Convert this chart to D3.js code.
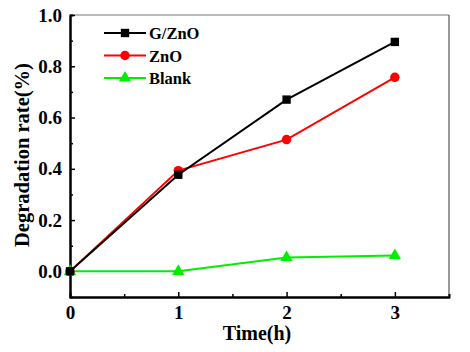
<!DOCTYPE html>
<html lang="en">
<head>
    <meta charset="UTF-8">
    <title>Degradation rate</title>
    <script src="https://d3js.org/d3.v7.min.js"></script>
    <style>
        body { margin: 0; background: #fff; }
        text { font-family: "Liberation Serif", "Times New Roman", serif; font-weight: bold; }
    </style>
</head>
<body>
    <script>
// data
const times = [0, 1, 2, 3];
const gZnO = [0, 0.377, 0.67, 0.895];
const znO = [0, 0.393, 0.514, 0.757];
const blank = [0, 0, 0.054, 0.062];
const seriesNames = ['G/ZnO', 'ZnO', 'Blank'];
const xTicks = [0, 1, 2, 3];
const yTicks = [0, 0.2, 0.4, 0.6, 0.8, 1.0];

const width = 470, height = 352;
const plotLeft = 70, plotRight = 449, plotTop = 15, plotBottom = 297;

const svg = d3.select('body').append('svg')
    .attr('width', width)
    .attr('height', height);

const x = d3.scaleLinear().domain([0, 3.5]).range([plotLeft, plotRight]);
const y = d3.scaleLinear().domain([-0.1, 1.0]).range([plotBottom, plotTop]);

// frame: top and right in grey
svg.append('line').attr('x1', plotLeft).attr('x2', plotRight).attr('y1', plotTop).attr('y2', plotTop)
    .attr('stroke', '#777').attr('stroke-width', 1.2);
svg.append('line').attr('x1', plotRight).attr('x2', plotRight).attr('y1', plotTop).attr('y2', plotBottom)
    .attr('stroke', '#555').attr('stroke-width', 1.2);

// minor ticks
const gx = svg.append('g').attr('transform', `translate(0,${plotBottom})`);
gx.call(d3.axisTop(x).tickValues([0.5, 1.5, 2.5]).tickSize(3).tickFormat(''));
const gy = svg.append('g').attr('transform', `translate(${plotLeft},0)`);
gy.call(d3.axisRight(y).tickValues([0.1, 0.3, 0.5, 0.7, 0.9]).tickSize(3).tickFormat(''));

// major axes
const xAxis = svg.append('g').attr('transform', `translate(0,${plotBottom})`)
    .call(d3.axisBottom(x).tickValues(xTicks).tickSizeInner(-5).tickSizeOuter(0).tickPadding(9).tickFormat(d3.format('d')));
const yAxis = svg.append('g').attr('transform', `translate(${plotLeft},0)`)
    .call(d3.axisLeft(y).tickValues(yTicks).tickSizeInner(-5).tickSizeOuter(0).tickPadding(8).tickFormat(d3.format('.1f')));

[gx, gy, xAxis, yAxis].forEach(g => {
    g.attr('font-family', 'Liberation Serif').attr('font-size', 19).attr('font-weight', 'bold');
    g.select('.domain').attr('stroke', '#000').attr('stroke-width', 2);
    g.selectAll('.tick line').attr('stroke', '#000').attr('stroke-width', 1.5);
    g.selectAll('.tick text').attr('fill', '#000');
});

// axis titles
svg.append('text')
    .attr('x', 257).attr('y', 340)
    .attr('text-anchor', 'middle')
    .style('font-size', '20px')
    .text('Time(h)');
svg.append('text')
    .attr('transform', 'translate(29,155) rotate(-90)')
    .attr('text-anchor', 'middle')
    .style('font-size', '20.5px')
    .text('Degradation rate(%)');

const series = [
    { name: seriesNames[0], values: gZnO, color: '#000000', shape: d3.symbolSquare, size: 70 },
    { name: seriesNames[1], values: znO, color: '#ff0000', shape: d3.symbolCircle, size: 70 },
    { name: seriesNames[2], values: blank, color: '#00ee00', shape: d3.symbolTriangle, size: 65 }
];

const line = d3.line().x((d, i) => x(times[i])).y(d => y(d));

series.slice().reverse().forEach(s => {
    svg.append('path')
        .attr('d', line(s.values))
        .attr('fill', 'none')
        .attr('stroke', s.color)
        .attr('stroke-width', 2);
    svg.selectAll(null)
        .data(s.values)
        .enter()
        .append('path')
        .attr('transform', (d, i) => `translate(${x(times[i])},${y(d)})`)
        .attr('d', d3.symbol().type(s.shape).size(s.size))
        .attr('fill', s.color);
});

// legend
const legend = svg.append('g');
series.forEach((s, i) => {
    const ly = 33 + i * 22.5;
    legend.append('line').attr('x1', 104).attr('x2', 146).attr('y1', ly).attr('y2', ly)
        .attr('stroke', s.color).attr('stroke-width', 2);
    legend.append('path')
        .attr('transform', `translate(125,${ly})`)
        .attr('d', d3.symbol().type(s.shape).size(s.size))
        .attr('fill', s.color);
    legend.append('text')
        .attr('x', 149).attr('y', ly + 6)
        .style('font-size', '16.5px')
        .text(s.name);
});
    </script>
</body>
</html>
